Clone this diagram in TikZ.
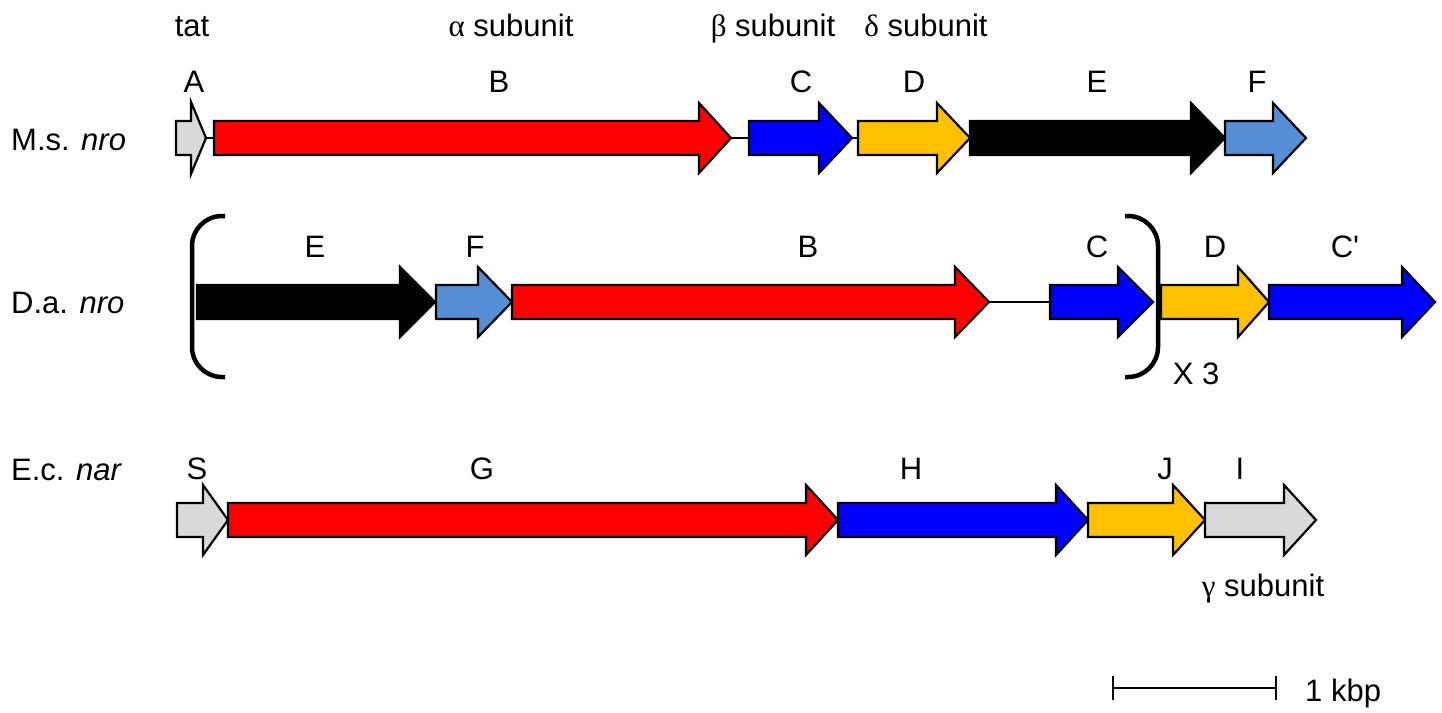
\documentclass[tikz,border=0pt]{standalone}
\usepackage{fontspec}
\setmainfont{Liberation Sans}
\newfontfamily\grk{Liberation Serif}
\definecolor{gred}{HTML}{FF0000}
\definecolor{gblue}{HTML}{0000FF}
\definecolor{ggold}{HTML}{FFC000}
\definecolor{glblue}{HTML}{558ED5}
\definecolor{ggray}{HTML}{D9D9D9}
% name, x-left, x-head, x-tip, y-center, fill
\newcommand\gene[6]{%
  \draw[genebox, fill=#6] (#2,#5-17) -- (#3,#5-17) -- (#3,#5-35) -- (#4,#5)
    -- (#3,#5+35) -- (#3,#5+17) -- (#2,#5+17) -- cycle;
  \coordinate (#1-s) at (#2,#5);
  \coordinate (#1-e) at (#4,#5);
}
\begin{document}
\begin{tikzpicture}[x=1pt,y=-1pt,
  genebox/.style={draw=black, line width=2.2pt, line join=miter},
  link/.style={draw=black, line width=1.6pt},
  bracketline/.style={draw=black, line width=4.5pt, rounded corners=30pt},
  lbl/.style={anchor=base, inner sep=0pt, font=\fontsize{31}{37}\selectfont},
  rowlbl/.style={anchor=base west, inner sep=0pt, font=\fontsize{31}{37}\selectfont}]
\useasboundingbox (0,0) rectangle (1442,712);

% ---------- top annotations ----------
\node[lbl] (tat) at (192,36) {tat};
\node[lbl] (alpha) at (511,36) {{\grk α} subunit};
\node[lbl] (beta) at (773,36) {{\grk β} subunit};
\node[lbl] (delta) at (926,36) {{\grk δ} subunit};

% ---------- M.s. nro ----------
\node[rowlbl] (ms) at (11,150) {M.s. \textit{nro}};
\draw[genebox, fill=ggray] (176,121) -- (191,121) -- (191,102) -- (206,138)
  -- (191,174) -- (191,155) -- (176,155) -- cycle;
\coordinate (msA-s) at (176,138); \coordinate (msA-e) at (206,138);
\gene{msB}{214}{699}{731}{138}{gred}
\gene{msC}{749}{819}{852}{138}{gblue}
\gene{msD}{858}{937}{970}{138}{ggold}
\gene{msE}{970}{1191}{1225}{138}{black}
\gene{msF}{1225}{1273}{1306}{138}{glblue}
\draw[link] (msA-e) -- (msB-s);
\draw[link] (msB-e) -- (msC-s);
\draw[link] (msC-e) -- (msD-s);
\node[lbl] (msAl) at (194,92) {A};
\node[lbl] (msBl) at (499,92) {B};
\node[lbl] (msCl) at (801,92) {C};
\node[lbl] (msDl) at (914,92) {D};
\node[lbl] (msEl) at (1097,92) {E};
\node[lbl] (msFl) at (1257,92) {F};

% ---------- D.a. nro ----------
\node[rowlbl] (da) at (11,313) {D.a. \textit{nro}};
\gene{daE}{197}{400}{435}{302}{black}
\gene{daF}{436}{478}{512}{302}{glblue}
\gene{daB}{512}{955}{989}{302}{gred}
\gene{daC}{1050}{1118}{1153}{302}{gblue}
\gene{daD}{1161}{1238}{1269}{302}{ggold}
\gene{daCp}{1269}{1402}{1435}{302}{gblue}
\draw[link] (daB-e) -- (daC-s);
\draw[bracketline] (225,216) -- (192,216) -- (192,377) -- (225,377);
\draw[bracketline] (1125,216) -- (1158,216) -- (1158,377) -- (1125,377);
\node[lbl] (daEl) at (315,257) {E};
\node[lbl] (daFl) at (475,257) {F};
\node[lbl] (daBl) at (808,257) {B};
\node[lbl] (daCl) at (1097,257) {C};
\node[lbl] (daDl) at (1215,257) {D};
\node[lbl] (daCpl) at (1345,257) {C\textquotesingle};
\node[lbl] (x3) at (1196,384) {X 3};

% ---------- E.c. nar ----------
\node[rowlbl] (ec) at (11,480) {E.c. \textit{nar}};
\gene{ecS}{177}{203}{228}{520}{ggray}
\gene{ecG}{228}{806}{838}{520}{gred}
\gene{ecH}{838}{1056}{1088}{520}{gblue}
\gene{ecJ}{1088}{1173}{1205}{520}{ggold}
\gene{ecI}{1205}{1284}{1316}{520}{ggray}
\node[lbl] (ecSl) at (197,479) {S};
\node[lbl] (ecGl) at (482,479) {G};
\node[lbl] (ecHl) at (911,479) {H};
\node[lbl] (ecJl) at (1165,479) {J};
\node[lbl] (ecIl) at (1240,479) {I};
\node[lbl] (gamma) at (1263,596) {{\grk γ} subunit};

% ---------- scale bar ----------
\coordinate (sbL) at (1113,688);
\coordinate (sbR) at (1276,688);
\draw[link] (sbL) -- (sbR);
\draw[link] ([yshift=-12pt]sbL) -- ([yshift=12pt]sbL);
\draw[link] ([yshift=-12pt]sbR) -- ([yshift=12pt]sbR);
\node[lbl, anchor=base west] (kbp) at (1305,701) {1 kbp};
\end{tikzpicture}
\end{document}
